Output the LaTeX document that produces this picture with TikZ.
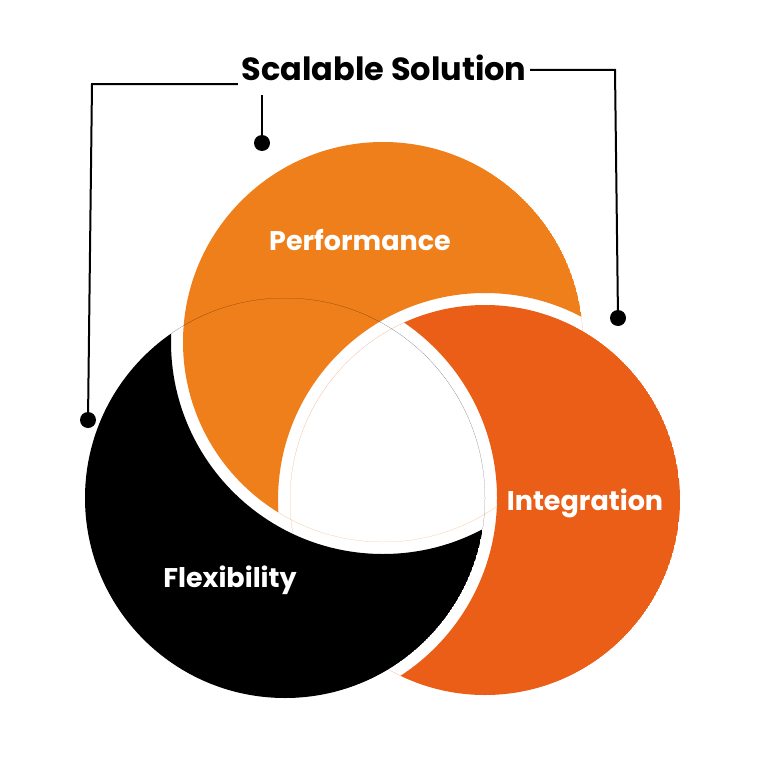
\documentclass[tikz,border=0pt]{standalone}
\usepackage{fontspec}
\setmainfont{Poppins}
\definecolor{perf}{HTML}{EE7F1B}
\definecolor{integ}{HTML}{EB5E17}
\begin{document}
\begin{tikzpicture}[x=1pt,y=-1pt,
  lbl/.style={text=white,font=\bfseries\fontsize{27}{30}\selectfont},
  callout/.style={line width=2pt},
  dotc/.style={circle,fill=black,inner sep=0pt,minimum size=16pt}]
\useasboundingbox[fill=white] (0,0) rectangle (768,768);
\coordinate (P) at (383,342);
\coordinate (I) at (485,500);
\coordinate (F) at (285,498);
\def\g{12}
\begin{scope}\clip (P) circle (200);
  \fill[perf,even odd rule] (P) circle (200) (I) circle (195+\g);\end{scope}
\begin{scope}\clip (I) circle (195);
  \fill[integ,even odd rule] (I) circle (195) (F) circle (200+\g);\end{scope}
\begin{scope}\clip (F) circle (200);
  \fill[black,even odd rule] (F) circle (200) (P) circle (200+\g);\end{scope}
\node[lbl] (perfl) at (360,240) {Performance};
\node[lbl] (intl) at (585,503) {Integration};
\node[lbl] (flexl) at (230,580) {Flexibility};
\node[font=\bfseries\fontsize{32}{36}\selectfont] (title) at (384,68) {Scalable Solution};
\node[dotc] (d1) at (88,420) {};
\node[dotc] (d2) at (262,143) {};
\node[dotc] (d3) at (618,318) {};
\draw[callout] (title.west|-0,84) -- (92,84) -- (d1.center);
\draw[callout] (262,95) -- (d2.center);
\draw[callout] (title.east|-0,70) -- (615,70) -- (d3.center);
\end{tikzpicture}
\end{document}
